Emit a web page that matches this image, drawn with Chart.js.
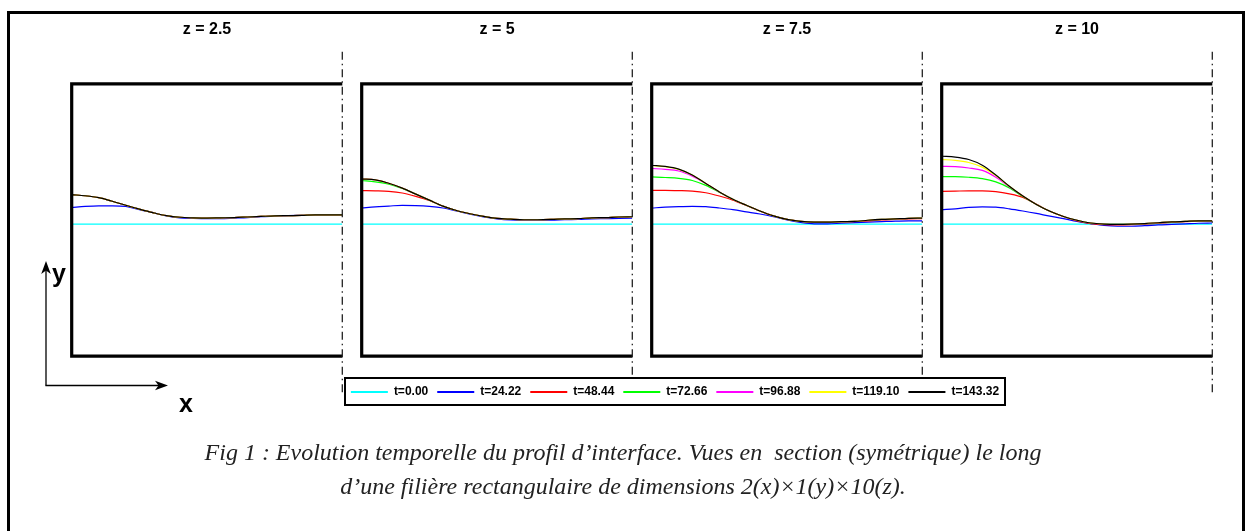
<!DOCTYPE html>
<html>
<head>
<meta charset="utf-8">
<script src="https://cdn.jsdelivr.net/npm/chart.js@4.4.1/dist/chart.umd.min.js"></script>
<style>
  html, body { margin: 0; padding: 0; background: #fff; }
  body { width: 1245px; height: 531px; position: relative; overflow: hidden; font-family: "Liberation Sans", Arial, sans-serif; }
  #frame { position: absolute; left: 7px; top: 11px; width: 1232px; height: 560px; border: 3px solid #000; border-bottom: none; }
  .panel { position: absolute; top: 14px; z-index: 1; }
  #legendBox { position: absolute; left: 344px; top: 377px; width: 658px; height: 25px; border: 2px solid #000; background: #fff; z-index: 2; }
  #legendCanvas { position: absolute; left: 330px; top: 377px; z-index: 3; }
  #overlay { position: absolute; left: 0; top: 0; z-index: 4; }
</style>
</head>
<body>
<div id="frame"></div>
<canvas class="panel" id="p0" width="290" height="386" style="left:60px"></canvas>
<canvas class="panel" id="p1" width="290" height="386" style="left:350px"></canvas>
<canvas class="panel" id="p2" width="290" height="386" style="left:640px"></canvas>
<canvas class="panel" id="p3" width="290" height="386" style="left:930px"></canvas>
<div id="legendBox"></div>
<canvas id="legendCanvas" width="690" height="80"></canvas>
<svg id="overlay" width="1245" height="531">
  <g stroke="#000" stroke-width="1.3" fill="none">
    <line x1="46" y1="385.5" x2="46" y2="268"/>
    <line x1="45.4" y1="385.5" x2="160" y2="385.5"/>
  </g>
  <path d="M46 261 L50.8 274 L46 270.5 L41.2 274 Z" fill="#000"/>
  <path d="M168 385.5 L155 380.7 L158.5 385.5 L155 390.3 Z" fill="#000"/>
  <text x="52" y="282" font-family="Liberation Sans, Arial, sans-serif" font-weight="bold" font-size="25">y</text>
  <text x="179" y="412" font-family="Liberation Sans, Arial, sans-serif" font-weight="bold" font-size="25">x</text>
  <g font-family="Liberation Serif, serif" font-style="italic" font-size="24" fill="#222" text-anchor="middle">
    <text x="623" y="460" xml:space="preserve">Fig 1 : Evolution temporelle du profil d’interface. Vues en  section (symétrique) le long</text>
    <text x="623" y="494">d’une filière rectangulaire de dimensions 2(x)×1(y)×10(z).</text>
  </g>
</svg>

<script>
// Transverse position across the half-section (0 = wall, 1 = symmetry plane)
const xPos = [0, 0.05, 0.1, 0.15, 0.2, 0.25, 0.3, 0.35, 0.4, 0.45, 0.5,
              0.55, 0.6, 0.65, 0.7, 0.75, 0.8, 0.85, 0.9, 0.95, 1];

const sections = ['z = 2.5', 'z = 5', 'z = 7.5', 'z = 10'];
const times = ['t=0.00', 't=24.22', 't=48.44', 't=72.66', 't=96.88', 't=119.10', 't=143.32'];
const colors = ['#00ffff', '#0000ff', '#ff0000', '#00ff00', '#ff00ff', '#ffff00', '#000000'];

// Initial flat interface, identical in every section
const h_t0 = [0.485, 0.485, 0.485, 0.485, 0.485, 0.485, 0.485, 0.485, 0.485, 0.485, 0.485,
              0.485, 0.485, 0.485, 0.485, 0.485, 0.485, 0.485, 0.485, 0.485, 0.485];

// z = 2.5
const z25_t24  = [0.546, 0.550, 0.552, 0.552, 0.550, 0.538, 0.527, 0.515, 0.508, 0.506, 0.505, 0.505, 0.507, 0.509, 0.512, 0.514, 0.516, 0.517, 0.518, 0.518, 0.519];
const z25_t48  = [0.593, 0.589, 0.582, 0.569, 0.554, 0.540, 0.527, 0.516, 0.510, 0.508, 0.507, 0.508, 0.509, 0.511, 0.513, 0.515, 0.516, 0.517, 0.519, 0.519, 0.519];
const z25_t72  = [0.593, 0.589, 0.582, 0.569, 0.554, 0.540, 0.527, 0.516, 0.510, 0.508, 0.507, 0.508, 0.509, 0.511, 0.513, 0.515, 0.516, 0.517, 0.519, 0.519, 0.519];
const z25_t96  = [0.593, 0.589, 0.582, 0.569, 0.554, 0.540, 0.527, 0.516, 0.510, 0.508, 0.507, 0.508, 0.509, 0.511, 0.513, 0.515, 0.516, 0.517, 0.519, 0.519, 0.519];
const z25_t119 = [0.593, 0.589, 0.582, 0.569, 0.554, 0.540, 0.527, 0.516, 0.510, 0.508, 0.507, 0.508, 0.509, 0.511, 0.513, 0.515, 0.516, 0.517, 0.519, 0.519, 0.519];
const z25_t143 = [0.593, 0.589, 0.582, 0.569, 0.554, 0.540, 0.527, 0.516, 0.510, 0.508, 0.507, 0.508, 0.509, 0.511, 0.513, 0.515, 0.516, 0.517, 0.519, 0.519, 0.519];

// z = 5
const z5_t24  = [0.544, 0.548, 0.551, 0.554, 0.553, 0.550, 0.544, 0.533, 0.521, 0.511, 0.504, 0.500, 0.499, 0.499, 0.499, 0.501, 0.502, 0.504, 0.505, 0.506, 0.507];
const z5_t48  = [0.608, 0.607, 0.605, 0.599, 0.587, 0.572, 0.551, 0.535, 0.523, 0.513, 0.506, 0.503, 0.501, 0.501, 0.502, 0.504, 0.505, 0.508, 0.509, 0.511, 0.512];
const z5_t72  = [0.645, 0.640, 0.632, 0.616, 0.595, 0.573, 0.551, 0.535, 0.523, 0.513, 0.506, 0.503, 0.501, 0.501, 0.502, 0.504, 0.505, 0.508, 0.509, 0.511, 0.512];
const z5_t96  = [0.651, 0.647, 0.635, 0.617, 0.595, 0.573, 0.551, 0.535, 0.523, 0.513, 0.506, 0.503, 0.501, 0.501, 0.502, 0.504, 0.505, 0.508, 0.509, 0.511, 0.512];
const z5_t119 = [0.651, 0.647, 0.635, 0.617, 0.595, 0.573, 0.551, 0.535, 0.523, 0.513, 0.506, 0.503, 0.501, 0.501, 0.502, 0.504, 0.505, 0.508, 0.509, 0.511, 0.512];
const z5_t143 = [0.651, 0.647, 0.635, 0.617, 0.595, 0.573, 0.551, 0.535, 0.523, 0.513, 0.506, 0.503, 0.501, 0.501, 0.502, 0.504, 0.505, 0.508, 0.509, 0.511, 0.512];

// z = 7.5
const z75_t24  = [0.544, 0.547, 0.549, 0.550, 0.549, 0.544, 0.538, 0.530, 0.522, 0.512, 0.500, 0.491, 0.486, 0.486, 0.488, 0.490, 0.492, 0.494, 0.496, 0.497, 0.497];
const z75_t48  = [0.609, 0.609, 0.608, 0.606, 0.600, 0.588, 0.573, 0.553, 0.533, 0.515, 0.502, 0.495, 0.492, 0.492, 0.493, 0.494, 0.497, 0.500, 0.502, 0.504, 0.505];
const z75_t72  = [0.658, 0.656, 0.653, 0.645, 0.627, 0.602, 0.576, 0.554, 0.533, 0.515, 0.502, 0.495, 0.492, 0.492, 0.494, 0.495, 0.499, 0.502, 0.504, 0.506, 0.507];
const z75_t96  = [0.689, 0.686, 0.680, 0.661, 0.634, 0.603, 0.576, 0.554, 0.533, 0.515, 0.502, 0.495, 0.492, 0.492, 0.494, 0.495, 0.499, 0.502, 0.504, 0.506, 0.507];
const z75_t119 = [0.700, 0.696, 0.686, 0.665, 0.634, 0.603, 0.576, 0.554, 0.533, 0.515, 0.502, 0.495, 0.492, 0.492, 0.494, 0.495, 0.499, 0.502, 0.504, 0.506, 0.507];
const z75_t143 = [0.701, 0.697, 0.687, 0.665, 0.634, 0.603, 0.576, 0.554, 0.533, 0.515, 0.502, 0.495, 0.492, 0.492, 0.494, 0.495, 0.499, 0.502, 0.504, 0.506, 0.507];

// z = 10
const z10_t24  = [0.538, 0.541, 0.546, 0.548, 0.547, 0.541, 0.533, 0.524, 0.514, 0.505, 0.495, 0.487, 0.480, 0.477, 0.477, 0.479, 0.482, 0.484, 0.486, 0.488, 0.489];
const z10_t48  = [0.605, 0.606, 0.607, 0.607, 0.604, 0.596, 0.583, 0.558, 0.532, 0.513, 0.497, 0.487, 0.483, 0.482, 0.483, 0.485, 0.488, 0.491, 0.494, 0.496, 0.497];
const z10_t72  = [0.659, 0.659, 0.657, 0.652, 0.640, 0.618, 0.586, 0.557, 0.532, 0.513, 0.499, 0.489, 0.485, 0.484, 0.485, 0.487, 0.490, 0.493, 0.495, 0.497, 0.497];
const z10_t96  = [0.697, 0.696, 0.691, 0.682, 0.657, 0.622, 0.588, 0.557, 0.532, 0.513, 0.499, 0.489, 0.485, 0.484, 0.485, 0.487, 0.490, 0.493, 0.495, 0.497, 0.497];
const z10_t119 = [0.722, 0.719, 0.711, 0.694, 0.663, 0.624, 0.588, 0.557, 0.532, 0.513, 0.499, 0.489, 0.485, 0.484, 0.485, 0.487, 0.490, 0.493, 0.495, 0.497, 0.497];
const z10_t143 = [0.734, 0.731, 0.722, 0.701, 0.665, 0.624, 0.588, 0.557, 0.532, 0.513, 0.499, 0.489, 0.485, 0.484, 0.485, 0.487, 0.490, 0.493, 0.495, 0.497, 0.497];

const profiles = [
  [h_t0, z25_t24, z25_t48, z25_t72, z25_t96, z25_t119, z25_t143],
  [h_t0, z5_t24,  z5_t48,  z5_t72,  z5_t96,  z5_t119,  z5_t143],
  [h_t0, z75_t24, z75_t48, z75_t72, z75_t96, z75_t119, z75_t143],
  [h_t0, z10_t24, z10_t48, z10_t72, z10_t96, z10_t119, z10_t143]
];

// Channel walls (left, top, bottom) and the dash-dot symmetry plane on the right
const channelFrame = {
  id: 'channelFrame',
  afterDraw(chart) {
    const { ctx, chartArea: a } = chart;
    ctx.save();
    ctx.strokeStyle = '#000';
    ctx.lineWidth = 3.2;
    ctx.lineJoin = 'miter';
    ctx.beginPath();
    ctx.moveTo(a.right, a.top);
    ctx.lineTo(a.left, a.top);
    ctx.lineTo(a.left, a.bottom);
    ctx.lineTo(a.right, a.bottom);
    ctx.stroke();
    ctx.strokeStyle = '#222';
    ctx.lineWidth = 1.3;
    ctx.setLineDash([8, 4, 1.5, 4]);
    ctx.beginPath();
    ctx.moveTo(a.right, a.top - 32);
    ctx.lineTo(a.right, a.bottom + 37);
    ctx.stroke();
    ctx.restore();
  }
};

const titleFont = { family: '"Liberation Sans", Arial, sans-serif', weight: 'bold', size: 16 };

sections.forEach((name, p) => {
  const datasets = times.map((t, i) => ({
    label: t,
    data: xPos.map((x, k) => ({ x: x, y: profiles[p][i][k] })),
    borderColor: colors[i],
    backgroundColor: colors[i],
    borderWidth: 1.2,
    pointRadius: 0,
    cubicInterpolationMode: 'monotone',
    order: times.length - 1 - i
  }));
  new Chart(document.getElementById('p' + p), {
    type: 'line',
    data: { datasets },
    plugins: [channelFrame],
    options: {
      responsive: false,
      animation: false,
      events: [],
      layout: { padding: { left: 11.7, right: 7.7, top: 0, bottom: 43.8 } },
      scales: {
        x: { type: 'linear', min: 0, max: 1, display: false },
        y: { type: 'linear', min: 0, max: 1, display: false }
      },
      plugins: {
        legend: { display: false },
        tooltip: { enabled: false },
        title: {
          display: true,
          text: name,
          color: '#000',
          font: titleFont,
          padding: { top: 5.9, bottom: 44.7 }
        }
      }
    }
  });
});

// Shared legend for the time steps
new Chart(document.getElementById('legendCanvas'), {
  type: 'line',
  data: {
    datasets: times.map((t, i) => ({
      label: t,
      data: [],
      borderColor: colors[i],
      backgroundColor: colors[i],
      borderWidth: 1.8,
      pointStyle: 'line'
    }))
  },
  options: {
    responsive: false,
    animation: false,
    events: [],
    layout: { padding: 0 },
    scales: { x: { display: false }, y: { display: false } },
    plugins: {
      tooltip: { enabled: false },
      legend: {
        display: true,
        position: 'top',
        align: 'center',
        labels: {
          usePointStyle: true,
          pointStyle: 'line',
          pointStyleWidth: 37,
          boxHeight: 12,
          padding: 9,
          color: '#000',
          font: { family: '"Liberation Sans", Arial, sans-serif', weight: 'bold', size: 12 }
        }
      }
    }
  }
});
</script>
</body>
</html>
